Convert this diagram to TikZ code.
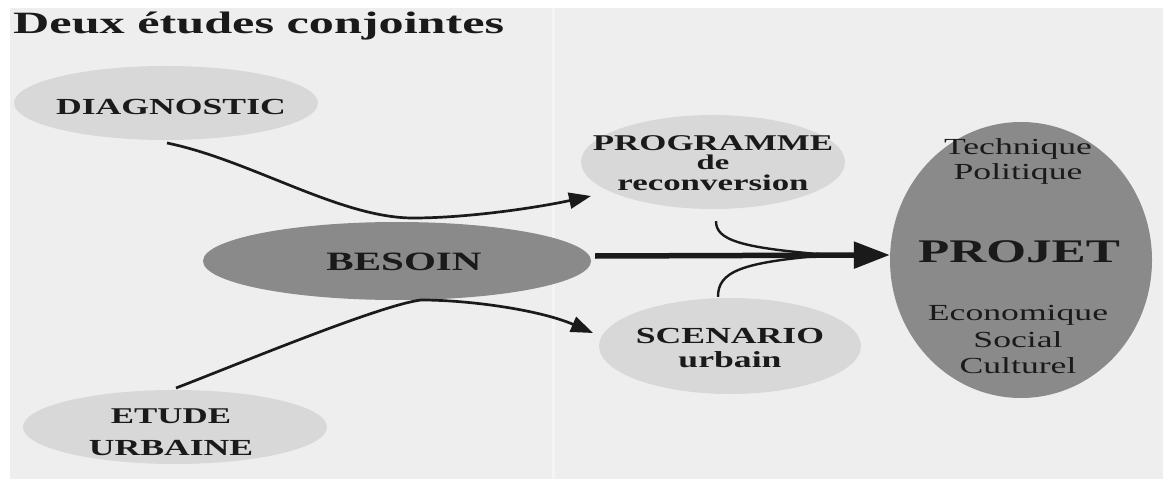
\documentclass[tikz,border=0pt]{standalone}
\usepackage{fontspec}
\usetikzlibrary{shapes.geometric,arrows.meta,calc}
\newfontfamily\wf[FakeStretch=1.55]{Liberation Serif}
\newfontfamily\tf[FakeStretch=1.62]{Liberation Serif}
\definecolor{bg}{HTML}{EEEEEE}
\definecolor{lightell}{HTML}{D8D8D8}
\definecolor{darkell}{HTML}{8A8A8A}
\definecolor{ink}{HTML}{1A1A1A}
\tikzset{
  ell/.style={ellipse, inner sep=0pt, draw=none},
  lightE/.style={ell, fill=lightell},
  darkE/.style={ell, fill=darkell},
  lbl/.style={anchor=base, inner sep=0pt, text=ink, align=center},
  conn/.style={draw=ink, line width=2.7pt, -{Triangle[length=22pt,width=16pt]}},
  feed/.style={draw=ink, line width=2.4pt},
  mainarrow/.style={draw=ink, line width=5.5pt, -{Triangle[length=36pt,width=26pt]}}
}
\begin{document}
\begin{tikzpicture}[x=1pt,y=-1pt]
\useasboundingbox (0,0) rectangle (1167,481);
\fill[white] (0,0) rectangle (1167,481);
\fill[bg] (10,8) rectangle (1163,479);
\fill[white!35!bg] (552,8) rectangle (555,479);

% title
\node[anchor=base west, inner sep=0pt, text=ink] (title) at (13,34)
  {\tf\bfseries\fontsize{31}{31}\selectfont Deux études conjointes};

% ellipses
\node[lightE, minimum width=304pt, minimum height=74pt] (diag) at (166,103) {};
\node[darkE, minimum width=388pt, minimum height=78pt] (besoin) at (397,261) {};
\node[lightE, minimum width=304pt, minimum height=74pt] (etude) at (175,427) {};
\node[lightE, minimum width=264pt, minimum height=94pt] (prog) at (713,162) {};
\node[lightE, minimum width=262pt, minimum height=96pt] (scen) at (730,346) {};
\node[darkE, minimum width=262pt, minimum height=276pt] (projet) at (1021,260) {};

% labels
\node[lbl] (diagT) at (171,115) {\wf\bfseries\fontsize{23}{23}\selectfont DIAGNOSTIC};
\node[lbl] (besoinT) at (404,270) {\wf\bfseries\fontsize{26.5}{26.5}\selectfont BESOIN};
\node[lbl] (etudeT1) at (171,423) {\wf\bfseries\fontsize{22.5}{22.5}\selectfont ETUDE};
\node[lbl] (etudeT2) at (171,455) {\wf\bfseries\fontsize{23}{23}\selectfont URBAINE};
\node[lbl] (progT1) at (713,151) {\wf\bfseries\fontsize{22.5}{22.5}\selectfont PROGRAMME};
\node[lbl] (progT2) at (713,170) {\wf\bfseries\fontsize{21}{21}\selectfont de};
\node[lbl] (progT3) at (713,191) {\wf\bfseries\fontsize{22.5}{22.5}\selectfont reconversion};
\node[lbl] (scenT1) at (730,343) {\wf\bfseries\fontsize{23}{23}\selectfont SCENARIO};
\node[lbl] (scenT2) at (730,367) {\wf\bfseries\fontsize{23}{23}\selectfont urbain};
\node[lbl] (tech) at (1018,155) {\wf\fontsize{23}{23}\selectfont Technique};
\node[lbl] (poli) at (1018,180) {\wf\fontsize{23}{23}\selectfont Politique};
\node[lbl] (projT) at (1019,262) {\wf\bfseries\fontsize{33}{33}\selectfont PROJET};
\node[lbl] (eco) at (1018,320) {\wf\fontsize{23}{23}\selectfont Economique};
\node[lbl] (soc) at (1018,347) {\wf\fontsize{23}{23}\selectfont Social};
\node[lbl] (cul) at (1018,373) {\wf\fontsize{23}{23}\selectfont Culturel};

% connectors
\coordinate (m) at (830,255);
\draw[conn] ($(diag.center)+(1,40)$) .. controls (250,160) and (340,218) .. (413,218)
   .. controls (470,218) and (540,207) .. ($(prog.center)+(-122,34)$);
\draw[conn] ($(etude.center)+(1,-39)$) .. controls (236,365) and (380,305) .. (421,300)
   .. controls (470,300) and (540,310) .. ($(scen.center)+(-137,-13)$);
\draw[mainarrow] ($(besoin.east)+(4,-5)$) -- ($(projet.west)+(0,-5)$);
\draw[feed] ($(prog.south)+(3,12)$) .. controls (716,240) and (740,248) .. (m);
\draw[feed] ($(scen.north)+(-12,-1)$) .. controls (718,272) and (740,262) .. (m);
\end{tikzpicture}
\end{document}
